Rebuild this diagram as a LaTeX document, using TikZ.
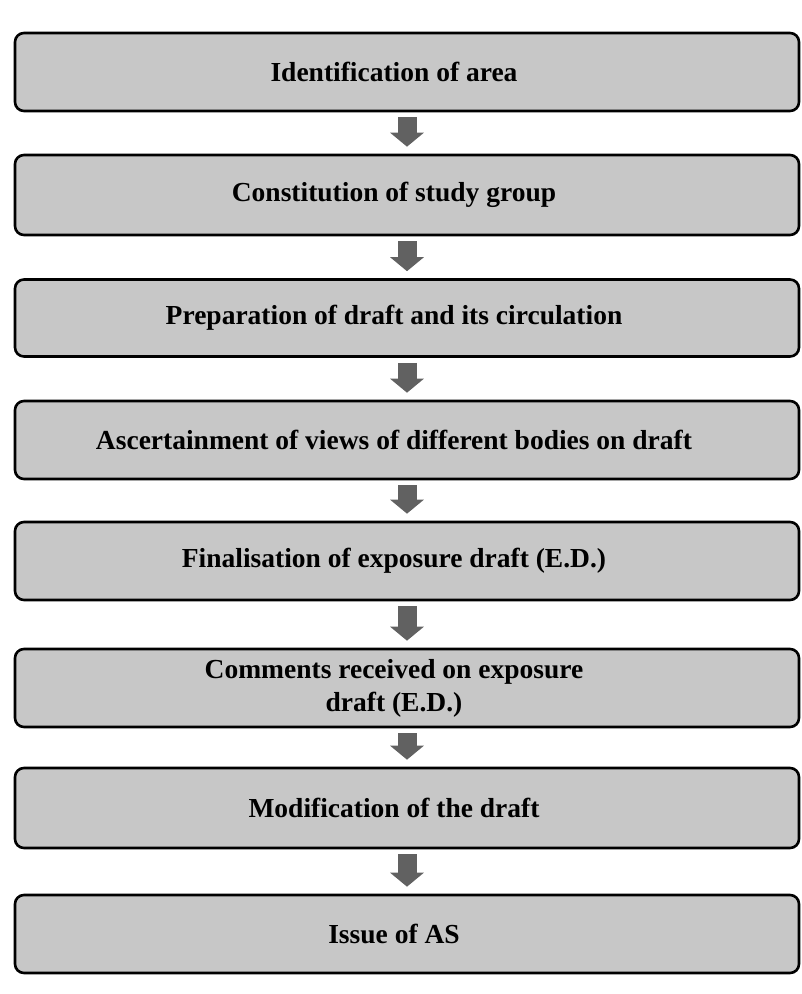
\documentclass[tikz,border=0pt]{standalone}
\usepackage{fontspec}
\setmainfont{Liberation Serif}
\usetikzlibrary{arrows.meta}
\newcommand{\lsh}{\hspace*{26pt}}
\begin{document}
\begin{tikzpicture}[x=1pt,y=-1pt,
  stepbox/.style={draw=black, line width=2.6pt, rounded corners=9pt, fill=black!22,
    minimum width=784pt, align=center, font=\fontsize{27.5}{33}\selectfont\bfseries, inner sep=0pt},
  flowarrow/.style={draw=black!62, line width=19pt, shorten <=5pt, shorten >=7pt,
    -{Triangle[width=33pt,length=14pt]}}]
\useasboundingbox (0,0) rectangle (802,994);
\fill[white] (0,0) rectangle (802,994);
\node[stepbox, minimum height=78pt] (b1) at (407,72) {Identification of area\lsh};
\node[stepbox, minimum height=80pt] (b2) at (407,195) {Constitution of study group\lsh};
\node[stepbox, minimum height=77pt] (b3) at (407,318) {Preparation of draft and its circulation\lsh};
\node[stepbox, minimum height=78pt] (b4) at (407,440) {Ascertainment of views of different bodies on draft\lsh};
\node[stepbox, minimum height=78pt] (b5) at (407,561) {Finalisation of exposure draft (E.D.)\lsh};
\node[stepbox, minimum height=78pt] (b6) at (407,688) {Comments received on exposure\lsh\\draft (E.D.)\lsh};
\node[stepbox, minimum height=80pt] (b7) at (407,808) {Modification of the draft\lsh};
\node[stepbox, minimum height=78pt] (b8) at (407,934) {Issue of AS\lsh};
\foreach \a/\b in {b1/b2,b2/b3,b3/b4,b4/b5,b5/b6,b6/b7,b7/b8}
  \draw[flowarrow] (\a.south) -- (\b.north);
\end{tikzpicture}
\end{document}
